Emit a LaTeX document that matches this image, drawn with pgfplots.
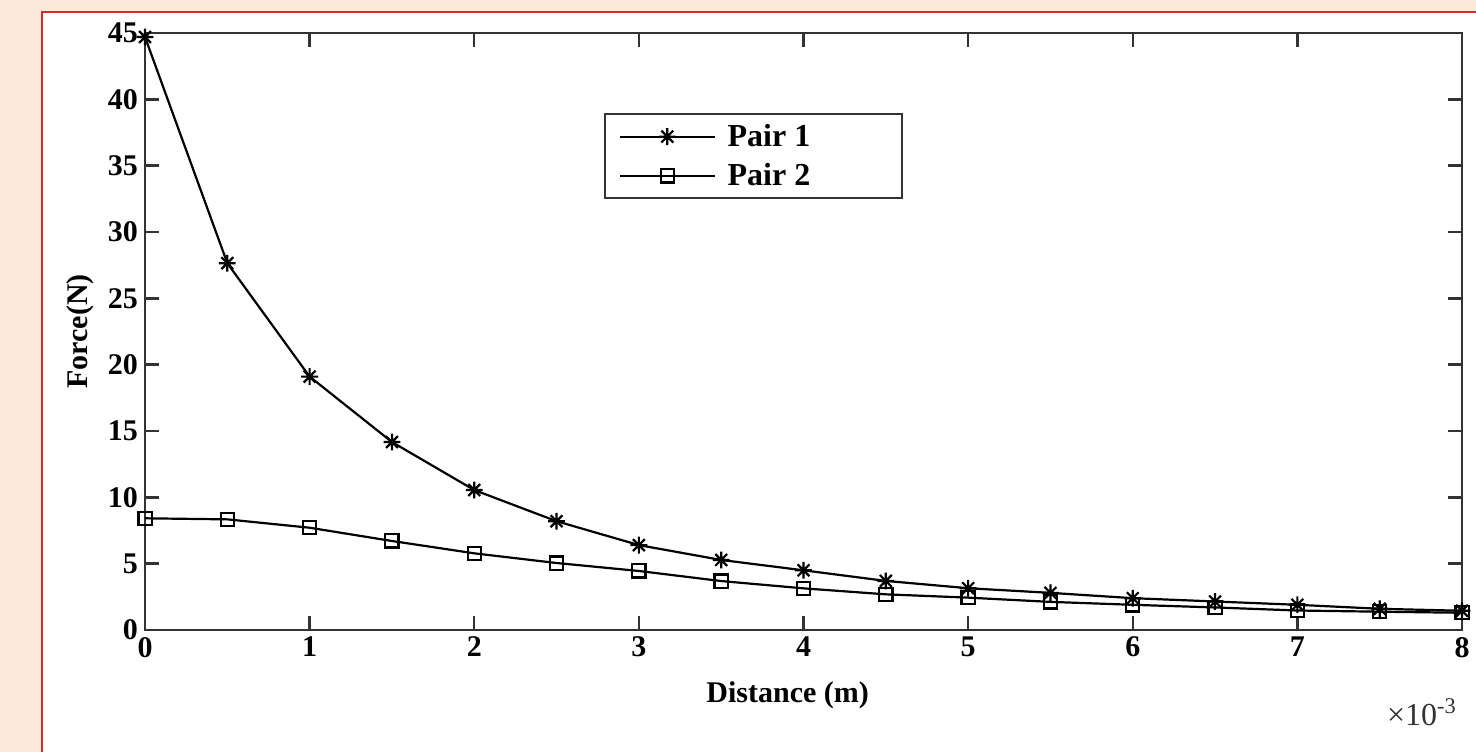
\documentclass[border=0pt]{standalone}
\usepackage{fontspec}
\setmainfont{Liberation Serif}
\usepackage{pgfplots}
\pgfplotsset{compat=1.18}
\definecolor{pagebg}{HTML}{FCE9DA}
\definecolor{frame}{HTML}{D42A2A}

% MATLAB-like 8-arm asterisk
\pgfdeclareplotmark{mstar}{%
  \pgfpathmoveto{\pgfqpoint{-\pgfplotmarksize}{0pt}}\pgfpathlineto{\pgfqpoint{\pgfplotmarksize}{0pt}}%
  \pgfpathmoveto{\pgfqpoint{0pt}{-\pgfplotmarksize}}\pgfpathlineto{\pgfqpoint{0pt}{\pgfplotmarksize}}%
  \pgfpathmoveto{\pgfqpoint{-.707\pgfplotmarksize}{-.707\pgfplotmarksize}}\pgfpathlineto{\pgfqpoint{.707\pgfplotmarksize}{.707\pgfplotmarksize}}%
  \pgfpathmoveto{\pgfqpoint{-.707\pgfplotmarksize}{.707\pgfplotmarksize}}\pgfpathlineto{\pgfqpoint{.707\pgfplotmarksize}{-.707\pgfplotmarksize}}%
  \pgfusepathqstroke}

\pgfplotstableread{
x    p1     p2
0    44.7   8.42
0.5  27.65  8.34
1    19.1   7.71
1.5  14.17  6.71
2    10.55  5.78
2.5  8.2    5.05
3    6.4    4.45
3.5  5.28   3.69
4    4.5    3.14
4.5  3.7    2.69
5    3.15   2.44
5.5  2.8    2.12
6    2.4    1.9
6.5  2.15   1.7
7    1.9    1.47
7.5  1.6    1.38
8    1.45   1.3
}\forcedata

\begin{document}
\begin{tikzpicture}
\useasboundingbox (0,0) rectangle (738pt,376pt);
\fill[pagebg] (0,0) rectangle (738pt,376pt);
\fill[white] (21pt,0) rectangle (738pt,370pt);
\draw[frame, line width=0.9pt] (21pt,0) -- (21pt,370pt) -- (738pt,370pt);
\begin{axis}[
    at={(72.5pt,61pt)}, anchor=south west,
    scale only axis,
    width=658.5pt, height=298.5pt,
    xmin=0, xmax=8, ymin=0, ymax=45,
    xtick={0,1,...,8}, ytick={0,5,...,45},
    tick align=inside,
    major tick length=7pt,
    axis line style={black!80, line width=1.2pt},
    every tick/.style={black!80, line width=1.2pt},
    /pgf/number format/assume math mode=true,
    ticklabel style={font=\bfseries\fontsize{15}{15}\selectfont},
    xlabel={Distance (m)},
    ylabel={Force(N)},
    label style={font=\bfseries\fontsize{15}{15}\selectfont},
    xlabel style={at={(axis description cs:0.488,-0.109)}, anchor=center},
    ylabel style={at={(axis description cs:-0.0494,0.5)}, anchor=center},
    legend style={at={(0.3485,0.866)}, anchor=north west,
        draw=black!80, line width=1pt, inner xsep=7pt, inner ysep=3pt,
        row sep=3pt, column sep=4pt,
        font=\bfseries\fontsize{16}{19}\selectfont,
        cells={anchor=west}},
    legend image code/.code={%
        \draw[mark repeat=2, mark phase=2] plot coordinates {(0cm,0cm) (0.83cm,0cm) (1.66cm,0cm)};},
]
\addplot[black, line width=1.1pt, mark=mstar, mark size=4.2pt] table[x=x, y=p1] {\forcedata};
\addlegendentry{\makebox[78pt][l]{Pair 1}}
\addplot[black, line width=1.1pt, mark=square, mark size=3.3pt] table[x=x, y=p2] {\forcedata};
\addlegendentry{\makebox[78pt][l]{Pair 2}}
\end{axis}
\node[anchor=center, font=\fontsize{16}{16}\selectfont, text=black!80] at (711pt,20pt) {×10\textsuperscript{-3}};
\end{tikzpicture}
\end{document}
